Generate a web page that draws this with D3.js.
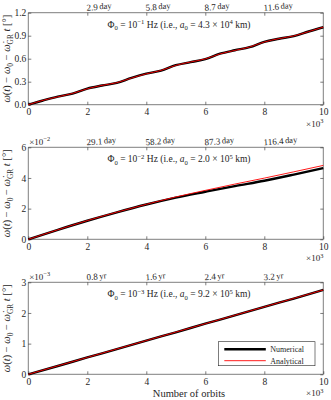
<!DOCTYPE html>
<html>
<head>
<meta charset="utf-8">
<script src="https://cdn.jsdelivr.net/npm/d3@7"></script>
<style>
    body { margin: 0; background: #fff; }
    svg { display: block; font-family: "Liberation Serif", "DejaVu Serif", serif; }
    .axis path, .axis line { stroke: #262626; stroke-width: 0.6; }
    .axis text { fill: #262626; font-size: 9.5px; font-family: "Liberation Serif", serif; }
</style>
</head>
<body>
<div id="chart"></div>
<script>
    // Data (orbits in units of 10^3)
    var orbitsFine = [0, 0.5, 1, 1.5, 2, 2.5, 3, 3.5, 4, 4.5, 5, 5.5, 6, 6.5, 7, 7.5, 8, 8.5, 9, 9.5, 10];
    var orbits = [0, 1, 2, 3, 4, 5, 6, 7, 8, 9, 10];

    // Phi0 = 1e-1 Hz  (degrees)
    var numerical1 = [0, 0.055, 0.105, 0.145, 0.21, 0.25, 0.285, 0.35, 0.405, 0.445, 0.515, 0.555, 0.595, 0.665, 0.71, 0.75, 0.82, 0.86, 0.895, 0.955, 1.01];
    var analytical1 = [0, 0.057, 0.103, 0.147, 0.208, 0.252, 0.287, 0.348, 0.403, 0.447, 0.513, 0.557, 0.597, 0.663, 0.708, 0.752, 0.818, 0.862, 0.897, 0.953, 1.012];
    // Phi0 = 1e-2 Hz  (x 10^-2 degrees)
    var numerical2 = [0, 0.62, 1.21, 1.76, 2.27, 2.72, 3.1, 3.47, 3.82, 4.22, 4.64];
    var analytical2 = [0, 0.62, 1.22, 1.77, 2.28, 2.76, 3.19, 3.6, 3.99, 4.4, 4.82];
    // Phi0 = 1e-3 Hz  (x 10^-3 degrees)
    var numerical3 = [0, 0.27, 0.55, 0.82, 1.1, 1.37, 1.65, 1.92, 2.2, 2.47, 2.75];
    var analytical3 = [0, 0.275, 0.55, 0.825, 1.1, 1.375, 1.65, 1.925, 2.2, 2.475, 2.75];

    var xTicks = [0, 2, 4, 6, 8, 10];
    var topTicks = [2, 4, 6, 8];
    var topLabels1 = ["2.9", "5.8", "8.7", "11.6"];
    var topLabels2 = ["29.1", "58.2", "87.3", "116.4"];
    var topLabels3 = ["0.8", "1.6", "2.4", "3.2"];

    var yTicks1 = [0, 0.3, 0.6, 0.9, 1.2];
    var yTicks2 = [0, 2, 4, 6];
    var yTicks3 = [0, 1, 2, 3];

    var legendNames = ["Numerical", "Analytical"];
    var colors = { numerical: "#000000", analytical: "#ff0000" };

    // Layout
    var W = 331, H = 400;
    var left = 28.3, right = 323.3, panelH = 92;
    var panelTops = [12.7, 147.3, 282.3];

    var svg = d3.select("#chart").append("svg").attr("width", W).attr("height", H);

    // Write text with sub/superscripts and italics using dy shifts
    var rich = function(sel, parts, size) {
        var shift = 0;
        parts.forEach(function(p) {
            var s = p[1] || "";
            var target = s.indexOf("sub") >= 0 ? size * 0.28 : (s.indexOf("sup") >= 0 ? -size * 0.38 : 0);
            var ts = sel.append("tspan").attr("dy", target - shift).text(p[0]);
            if (target !== 0) ts.style("font-size", (size * 0.7) + "px");
            if (s.indexOf("it") >= 0) ts.style("font-style", "italic");
            shift = target;
        });
    };

    var drawPanel = function(cfg) {
        var top = panelTops[cfg.index];
        var g = svg.append("g");

        var x = d3.scaleLinear().domain([0, 10]).range([left, right]);
        var y = d3.scaleLinear().domain(cfg.yDomain).range([top + panelH, top]);

        // axes, ticks inward (box style)
        g.append("g").attr("class", "axis")
            .attr("transform", "translate(0," + (top + panelH) + ")")
            .call(d3.axisBottom(x).tickValues(xTicks).tickSize(-3).tickPadding(4).tickFormat(d3.format("d")))
            .call(function(a) { a.select(".domain").attr("d", "M" + left + ",0H" + right); });
        g.append("g").attr("class", "axis")
            .attr("transform", "translate(" + left + ",0)")
            .call(d3.axisLeft(y).tickValues(cfg.yTicks).tickSize(-3).tickPadding(2).tickFormat(cfg.yFormat))
            .call(function(a) { a.select(".domain").attr("d", "M0," + (top + panelH) + "V" + top); });
        g.append("g").attr("class", "axis")
            .attr("transform", "translate(" + right + ",0)")
            .call(d3.axisRight(y).tickValues(cfg.yTicks).tickSize(-3).tickFormat(""))
            .call(function(a) { a.select(".domain").attr("d", "M0," + (top + panelH) + "V" + top); });
        g.append("g").attr("class", "axis")
            .attr("transform", "translate(0," + top + ")")
            .call(d3.axisTop(x).tickValues(topTicks).tickSize(-3).tickFormat(""))
            .call(function(a) { a.select(".domain").attr("d", "M" + left + ",0H" + right); });

        // top tick labels (time)
        topTicks.forEach(function(t, i) {
            var lbl = g.append("text")
                .attr("transform", "translate(" + (x(t) - 0.5) + "," + (top - 2) + ") rotate(-4)")
                .style("font-size", "9px").attr("fill", "#262626");
            lbl.append("tspan").text(cfg.topLabels[i]);
            lbl.append("tspan").attr("dx", 1.5).attr("dy", -0.5).style("font-size", "8.5px").text(cfg.unit);
        });

        // lines
        var line = d3.line()
            .x(function(d) { return x(d[0]); })
            .y(function(d) { return y(d[1]); })
            .curve(d3.curveMonotoneX);
        g.append("path")
            .datum(d3.zip(cfg.xs, cfg.numerical))
            .attr("fill", "none").attr("stroke", colors.numerical).attr("stroke-width", 2.4)
            .attr("d", line);
        g.append("path")
            .datum(d3.zip(cfg.xs, cfg.analytical))
            .attr("fill", "none").attr("stroke", colors.analytical).attr("stroke-width", 0.9)
            .attr("d", line);

        // title
        var title = g.append("text")
            .attr("x", 179).attr("y", top + 15)
            .attr("text-anchor", "middle").style("font-size", "9.5px").attr("fill", "#262626");
        rich(title, [["\u03A6"], ["0", "sub"], [" = 10"], ["\u2212" + cfg.exp, "sup"], [" Hz (i.e., "], ["a", "it"], ["0", "sub"],
            [" = " + cfg.a0 + " \u00D7 10"], [cfg.a0exp, "sup"], [" km)"]], 9.5);

        // y label
        var yl = g.append("text")
            .attr("transform", "translate(10," + (top + panelH / 2) + ") rotate(-90)")
            .attr("text-anchor", "middle").style("font-size", "10.5px").attr("fill", "#262626");
        rich(yl, [["\u03C9", "it"], ["("], ["t", "it"], [") \u2212 "], ["\u03C9", "it"], ["0", "sub"], [" \u2212 "],
            ["\u03C9\u0307", "it"], ["GR", "sub"], [" "], ["t", "it"], [" [\u00B0]"]], 10.5);

        // x exponent
        var xe = g.append("text")
            .attr("x", right).attr("y", top + panelH + 22)
            .attr("text-anchor", "end").style("font-size", "9px").attr("fill", "#262626");
        rich(xe, [["\u00D710"], ["3", "sup"]], 9);

        // y exponent
        if (cfg.yExp) {
            var ye = g.append("text")
                .attr("x", left + 1).attr("y", top - 2.5)
                .style("font-size", "9px").attr("fill", "#262626");
            rich(ye, [["\u00D710"], [cfg.yExp, "sup"]], 9);
        }
        return { x: x, y: y, g: g };
    };

    drawPanel({ index: 0, xs: orbitsFine, numerical: numerical1, analytical: analytical1, yDomain: [0, 1.2],
        yTicks: yTicks1, yFormat: d3.format(".1f"), topLabels: topLabels1, unit: "day", exp: "1", a0: "4.3", a0exp: "4" });
    drawPanel({ index: 1, xs: orbits, numerical: numerical2, analytical: analytical2, yDomain: [0, 6],
        yTicks: yTicks2, yFormat: d3.format("d"), topLabels: topLabels2, unit: "day", exp: "2", a0: "2.0", a0exp: "5", yExp: "\u22122" });
    drawPanel({ index: 2, xs: orbits, numerical: numerical3, analytical: analytical3, yDomain: [0, 3],
        yTicks: yTicks3, yFormat: d3.format("d"), topLabels: topLabels3, unit: "yr", exp: "3", a0: "9.2", a0exp: "5", yExp: "\u22123" });

    // x label
    svg.append("text")
        .attr("x", 189).attr("y", 397)
        .attr("text-anchor", "middle").style("font-size", "10.5px").attr("fill", "#262626")
        .text("Number of orbits");

    // legend
    var lg = svg.append("g").attr("transform", "translate(218.3,341.7)");
    lg.append("rect").attr("width", 96.7).attr("height", 24)
        .attr("fill", "#fff").attr("stroke", "#262626").attr("stroke-width", 0.6);
    legendNames.forEach(function(name, i) {
        var ly = 7.6 + i * 11.4;
        lg.append("line").attr("x1", 6).attr("x2", 47.5).attr("y1", ly).attr("y2", ly)
            .attr("stroke", i === 0 ? colors.numerical : colors.analytical)
            .attr("stroke-width", i === 0 ? 2.4 : 0.9);
        lg.append("text").attr("x", 52).attr("y", ly + 3)
            .style("font-size", "8px").attr("fill", "#262626").text(name);
    });
</script>
</body>
</html>
